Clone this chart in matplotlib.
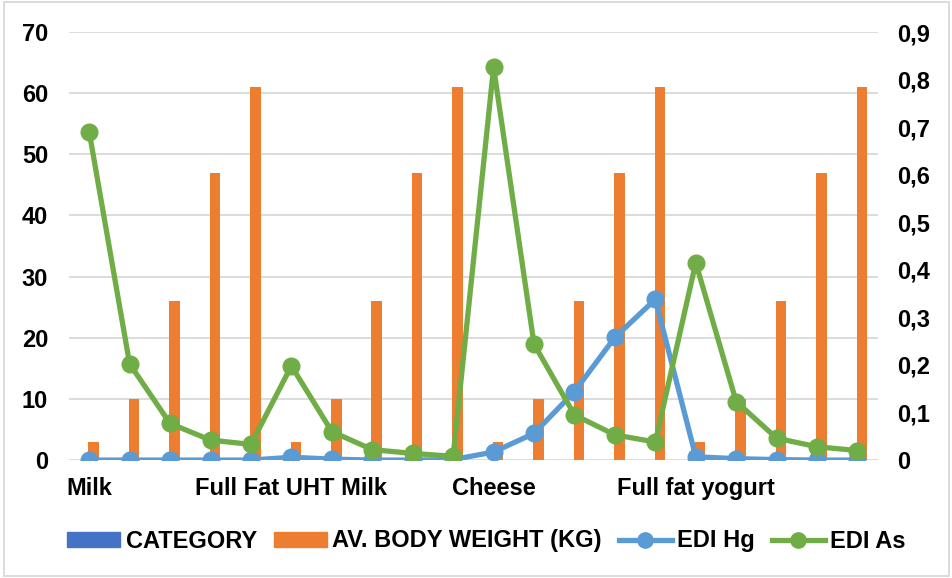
import matplotlib
matplotlib.use("Agg")
import matplotlib.pyplot as plt
import numpy as np
from matplotlib.lines import Line2D
from matplotlib.patches import Patch
from matplotlib.ticker import FuncFormatter

plt.rcParams['font.family'] = ['Liberation Sans', 'DejaVu Sans']
plt.rcParams['font.weight'] = 'bold'

tick_labels = ["Milk", "", "", "", "", "Full Fat UHT Milk", "", "", "", "",
               "Cheese", "", "", "", "", "Full fat yogurt", "", "", "", ""]
category = [0] * 20
body_weight = [3, 10, 26, 47, 61, 3, 10, 26, 47, 61,
               3, 10, 26, 47, 61, 3, 10, 26, 47, 61]
edi_hg = [0.0, 0.0, 0.0, 0.0, 0.0, 0.006, 0.002, 0.0, 0.0, 0.001,
          0.017, 0.056, 0.144, 0.258, 0.338, 0.007, 0.003, 0.001, 0.0, 0.0]
edi_as = [0.690, 0.202, 0.077, 0.042, 0.033, 0.198, 0.060, 0.022, 0.014, 0.008,
          0.826, 0.244, 0.095, 0.053, 0.038, 0.415, 0.123, 0.046, 0.028, 0.020]

x = np.arange(len(tick_labels))
fig = plt.figure(figsize=(9.53, 5.78), dpi=100)
ax = fig.add_axes([0.0724, 0.204, 0.8486, 0.7406])
ax2 = ax.twinx()

blue_bar = '#4472C4'
orange = '#ED7D31'
hg_col = '#5B9BD5'
as_col = '#70AD47'

w = 0.26
ax.bar(x - w / 2 + 0.11, category, w, color=blue_bar, zorder=2)
ax.bar(x + 0.11, body_weight, w, color=orange, zorder=2)
ax.set_ylim(0, 70)
ax.set_yticks(range(0, 71, 10))
ax.set_xlim(-0.5, len(x) - 0.5)
ax.set_xticks(x)
ax.set_xticklabels(tick_labels)
ax.grid(axis='y', color='#D9D9D9', linewidth=1.3, zorder=0)
ax.set_axisbelow(True)

ax2.plot(x, edi_hg, color=hg_col, lw=3.8, marker='o', ms=12, zorder=3)
ax2.plot(x, edi_as, color=as_col, lw=3.8, marker='o', ms=12, zorder=4)
ax2.set_ylim(0, 0.9)
ax2.set_yticks(np.arange(0, 0.91, 0.1))
ax2.yaxis.set_major_formatter(FuncFormatter(lambda v, p: ('%.1f' % v).replace('.', ',') if v > 1e-9 else '0'))

for a in (ax, ax2):
    for s in a.spines.values():
        s.set_visible(False)
    a.tick_params(length=0, labelsize=17)
ax.tick_params(axis='y', pad=15)
ax2.tick_params(axis='y', pad=14)
ax.tick_params(axis='x', pad=12)
for lab in ax.get_xticklabels() + ax.get_yticklabels() + ax2.get_yticklabels():
    lab.set_fontweight('bold')

handles = [
    Patch(color=blue_bar, label='CATEGORY'),
    Patch(color=orange, label='AV. BODY WEIGHT (KG)'),
    Line2D([], [], color=hg_col, lw=3.8, marker='o', ms=11, label='EDI Hg'),
    Line2D([], [], color=as_col, lw=3.8, marker='o', ms=11, label='EDI As'),
]
fig.legend(handles=handles, loc='center', bbox_to_anchor=(0.5105, 1 - 541 / 578), ncol=4,
           frameon=False, prop={'size': 17, 'weight': 'bold'}, handlelength=2.25,
           handleheight=0.6, handletextpad=0.22, columnspacing=0.72)

fig.patches.append(matplotlib.patches.Rectangle((0.004, 0.004), 0.992, 0.992, transform=fig.transFigure,
                                                fill=False, edgecolor='#D9D9D9', linewidth=1.3))
fig.savefig('out.png', dpi=100)
